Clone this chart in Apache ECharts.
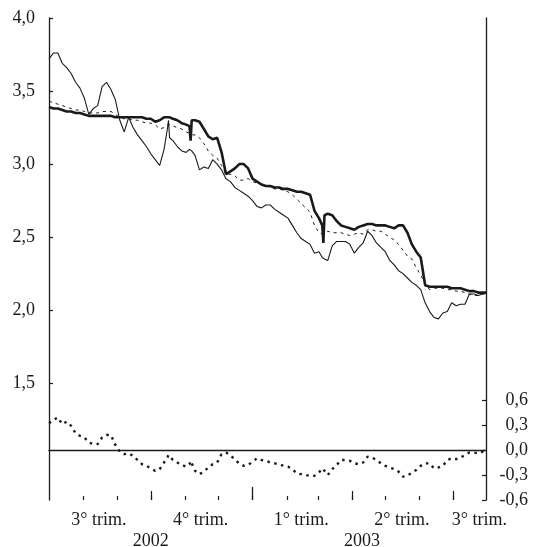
<!DOCTYPE html>
<html>
<head>
<meta charset="utf-8">
<script src="https://cdn.jsdelivr.net/npm/echarts@6/dist/echarts.min.js"></script>
<style>
  html, body { margin: 0; padding: 0; background: #fff; }
  #chart { width: 538px; height: 547px; }
</style>
</head>
<body>
<div id="chart"></div>
<script>
// Observation dates (1 Jul 2002 - 31 Jul 2003, roughly every fourth day, denser around sharp moves)
const dates = [
  '2002-07-01','2002-07-05','2002-07-09','2002-07-13','2002-07-17','2002-07-21','2002-07-25','2002-07-29',
  '2002-08-02','2002-08-06','2002-08-10','2002-08-14','2002-08-18','2002-08-22','2002-08-26','2002-08-30',
  '2002-09-03','2002-09-07','2002-09-11','2002-09-15','2002-09-19','2002-09-23','2002-09-27',
  '2002-10-01','2002-10-05','2002-10-09','2002-10-13','2002-10-16','2002-10-17','2002-10-18','2002-10-21','2002-10-25','2002-10-29',
  '2002-11-02','2002-11-05','2002-11-06','2002-11-07','2002-11-10','2002-11-14','2002-11-18','2002-11-22','2002-11-26','2002-11-30',
  '2002-12-04','2002-12-08','2002-12-12','2002-12-16','2002-12-20','2002-12-24','2002-12-28',
  '2003-01-01','2003-01-05','2003-01-09','2003-01-13','2003-01-17','2003-01-21','2003-01-25','2003-01-29',
  '2003-02-02','2003-02-06','2003-02-10','2003-02-14','2003-02-18','2003-02-22','2003-02-26',
  '2003-03-02','2003-03-05','2003-03-06','2003-03-07','2003-03-10','2003-03-14','2003-03-18','2003-03-22','2003-03-26','2003-03-30',
  '2003-04-03','2003-04-07','2003-04-11','2003-04-15','2003-04-19','2003-04-23','2003-04-27',
  '2003-05-01','2003-05-05','2003-05-09','2003-05-13','2003-05-17','2003-05-21','2003-05-25','2003-05-29',
  '2003-06-02','2003-06-06','2003-06-10','2003-06-14','2003-06-18','2003-06-22','2003-06-26','2003-06-30',
  '2003-07-04','2003-07-08','2003-07-12','2003-07-16','2003-07-20','2003-07-24','2003-07-28','2003-07-31'
];

// Upper curve (thick line), left axis
const upper = [
  3.39,3.38,3.38,3.37,3.36,3.36,3.35,3.35,
  3.34,3.33,3.33,3.33,3.33,3.33,3.33,3.32,
  3.32,3.32,3.32,3.32,3.32,3.32,3.31,
  3.31,3.29,3.30,3.32,3.32,3.32,3.32,3.31,3.30,3.28,
  3.27,3.26,3.16,3.30,3.30,3.29,3.24,3.19,3.17,3.18,
  3.08,2.93,2.95,2.97,3.00,3.00,2.97,
  2.90,2.88,2.86,2.85,2.85,2.84,2.84,2.83,
  2.83,2.82,2.81,2.81,2.80,2.79,2.68,
  2.63,2.58,2.46,2.65,2.66,2.65,2.61,2.58,2.57,2.56,
  2.55,2.57,2.58,2.59,2.59,2.58,2.58,
  2.58,2.57,2.56,2.58,2.58,2.53,2.45,2.40,
  2.36,2.17,2.16,2.16,2.16,2.16,2.16,2.15,
  2.15,2.15,2.14,2.13,2.13,2.12,2.12,2.12
];

// Lower curve (thin line), left axis
const lower = [
  3.72,3.76,3.76,3.69,3.66,3.62,3.56,3.52,
  3.45,3.34,3.38,3.40,3.53,3.56,3.51,3.44,
  3.30,3.22,3.32,3.25,3.20,3.16,3.12,
  3.07,3.03,2.99,3.10,3.24,3.30,3.18,3.16,3.12,3.09,
  3.08,3.10,3.10,3.09,3.06,2.96,2.98,2.97,3.03,3.00,
  2.96,2.90,2.88,2.84,2.82,2.80,2.78,
  2.75,2.71,2.70,2.72,2.72,2.69,2.67,2.65,
  2.63,2.58,2.53,2.49,2.47,2.45,2.39,
  2.40,2.36,2.35,2.35,2.34,2.44,2.47,2.47,2.47,2.45,
  2.39,2.43,2.46,2.54,2.51,2.46,2.43,
  2.40,2.34,2.31,2.27,2.25,2.22,2.19,2.17,
  2.14,2.05,1.99,1.95,1.94,1.98,1.99,2.05,
  2.03,2.04,2.04,2.11,2.11,2.10,2.11,2.12
];

// Middle curve (dashed line), left axis
const middle = [
  3.43,3.42,3.41,3.40,3.39,3.38,3.37,3.37,
  3.36,3.35,3.35,3.35,3.36,3.36,3.36,3.34,
  3.32,3.31,3.31,3.30,3.30,3.29,3.28,
  3.28,3.27,3.24,3.25,3.27,3.28,3.27,3.26,3.25,3.24,
  3.22,3.21,3.20,3.20,3.20,3.18,3.14,3.09,3.06,3.04,
  2.99,2.93,2.93,2.92,2.89,2.89,2.90,
  2.88,2.87,2.86,2.85,2.84,2.83,2.83,2.82,
  2.81,2.79,2.76,2.73,2.70,2.67,2.58,
  2.53,2.52,2.52,2.53,2.54,2.53,2.53,2.53,2.52,2.51,
  2.52,2.53,2.52,2.55,2.55,2.54,2.54,
  2.52,2.50,2.48,2.45,2.41,2.37,2.35,2.29,
  2.24,2.18,2.14,2.15,2.15,2.15,2.14,2.14,
  2.13,2.13,2.12,2.11,2.10,2.10,2.11,2.11
];

// Differential (dotted line), right axis
const spread = [
  0.32,0.36,0.39,0.31,0.34,0.29,0.20,0.17,
  0.15,0.09,0.07,0.07,0.15,0.18,0.18,0.06,
  -0.02,-0.05,-0.04,-0.07,-0.12,-0.17,-0.19,
  -0.22,-0.25,-0.23,-0.15,-0.09,-0.06,-0.08,-0.12,-0.15,-0.18,
  -0.20,-0.17,-0.13,-0.16,-0.25,-0.29,-0.26,-0.21,-0.17,-0.15,
  -0.05,-0.03,-0.06,-0.12,-0.16,-0.19,-0.18,
  -0.14,-0.10,-0.12,-0.13,-0.15,-0.16,-0.17,-0.19,
  -0.20,-0.23,-0.28,-0.29,-0.30,-0.31,-0.31,
  -0.27,-0.22,-0.21,-0.25,-0.30,-0.23,-0.18,-0.12,-0.12,-0.13,
  -0.16,-0.17,-0.15,-0.08,-0.09,-0.12,-0.16,
  -0.19,-0.21,-0.23,-0.26,-0.32,-0.31,-0.27,-0.24,
  -0.19,-0.16,-0.16,-0.22,-0.21,-0.19,-0.12,-0.10,
  -0.11,-0.09,-0.06,-0.03,-0.03,-0.04,-0.02,-0.03
];

// Axis ticks and labels
const startDate = '2002-07-01';
const endDate = '2003-07-31';
const monthTicks = ['2002-08-01','2002-09-01','2002-10-01','2002-11-01','2002-12-01','2003-01-01',
                    '2003-02-01','2003-03-01','2003-04-01','2003-05-01','2003-06-01','2003-07-01'];
const quarterTicks = ['2002-10-01','2003-04-01','2003-07-01'];
const yearTicks = ['2003-01-01'];
const quarterLabelDates = ['2002-08-15','2002-11-15','2003-02-14','2003-05-16','2003-07-25'];
const quarterLabels = ['3° trim.','4° trim.','1° trim.','2° trim.','3° trim.'];
const yearLabelDates = ['2002-10-01','2003-04-10'];
const yearLabels = ['2002','2003'];
const leftTicks = [1.5, 2.0, 2.5, 3.0, 3.5, 4.0];
const rightTicks = [-0.6, -0.3, 0.0, 0.3, 0.6];

// Dates are placed on a linear millisecond scale
const ts = s => Date.UTC(+s.slice(0, 4), +s.slice(5, 7) - 1, +s.slice(8, 10));
const pairs = vals => dates.map((d, i) => [ts(d), vals[i]]);
const comma = v => v.toFixed(1).replace('.', ',');

const INK = '#1a1a1a';
const FONT = { fontFamily: 'Liberation Serif', fontSize: 18, color: INK };

const quarterMap = {};
quarterLabelDates.forEach((d, i) => { quarterMap[ts(d)] = quarterLabels[i]; });
const yearMap = {};
yearLabelDates.forEach((d, i) => { yearMap[ts(d)] = yearLabels[i]; });

// Several bottom axes share one date range: baseline, month / quarter / year ticks, two label rows
function dateAxis(extra) {
  return Object.assign({
    type: 'value',
    min: ts(startDate),
    max: ts(endDate),
    position: 'bottom',
    splitLine: { show: false },
    axisLine: { show: false },
    axisTick: { show: false },
    axisLabel: { show: false }
  }, extra);
}
const tickStyle = w => ({ color: INK, width: w });

const chart = echarts.init(document.getElementById('chart'), null, { renderer: 'canvas' });
chart.setOption({
  animation: false,
  backgroundColor: '#fff',
  grid: { left: 49, right: 52, top: 18, bottom: 47, containLabel: false, outerBoundsMode: 'none' },
  xAxis: [
    dateAxis({
      axisLine: { show: true, lineStyle: { color: INK, width: 1.3 } }
    }),
    dateAxis({
      axisTick: { show: true, inside: true, length: 4, customValues: monthTicks.map(ts), lineStyle: tickStyle(1.2) }
    }),
    dateAxis({
      axisTick: { show: true, inside: true, length: 9, customValues: quarterTicks.map(ts), lineStyle: tickStyle(1.2) }
    }),
    dateAxis({
      axisTick: { show: true, inside: true, length: 13, customValues: yearTicks.map(ts), lineStyle: tickStyle(1.3) }
    }),
    dateAxis({
      axisLabel: Object.assign({ show: true, margin: 11, customValues: quarterLabelDates.map(ts),
                                 formatter: v => quarterMap[v] || '' }, FONT)
    }),
    dateAxis({
      axisLabel: Object.assign({ show: true, margin: 32, customValues: yearLabelDates.map(ts),
                                 formatter: v => yearMap[v] || '' }, FONT)
    })
  ],
  yAxis: [
    {
      type: 'value', position: 'left', min: 0.7, max: 4.0,
      splitLine: { show: false },
      axisLine: { show: true, lineStyle: { color: INK, width: 1.3 } },
      axisTick: { show: true, inside: true, length: 4, customValues: leftTicks, lineStyle: tickStyle(1.2) },
      axisLabel: Object.assign({ margin: 14, customValues: leftTicks, formatter: comma }, FONT)
    },
    {
      type: 'value', position: 'right', min: -0.6, max: 5.184,
      splitLine: { show: false },
      axisLine: { show: true, lineStyle: { color: INK, width: 1.3 } },
      axisTick: { show: true, inside: true, length: 4, customValues: rightTicks, lineStyle: tickStyle(1.2) },
      axisLabel: Object.assign({ margin: 42, align: 'right', customValues: rightTicks, formatter: comma }, FONT)
    }
  ],
  series: [
    {
      name: 'lower', type: 'line', xAxisIndex: 0, yAxisIndex: 0,
      data: pairs(lower), showSymbol: false, symbol: 'none',
      lineStyle: { color: INK, width: 1.1 }
    },
    {
      name: 'middle', type: 'line', xAxisIndex: 0, yAxisIndex: 0,
      data: pairs(middle), showSymbol: false, symbol: 'none',
      lineStyle: { color: INK, width: 1, type: [3, 4] }
    },
    {
      name: 'upper', type: 'line', xAxisIndex: 0, yAxisIndex: 0,
      data: pairs(upper), showSymbol: false, symbol: 'none',
      lineStyle: { color: INK, width: 2.6 }
    },
    {
      name: 'spread', type: 'line', xAxisIndex: 0, yAxisIndex: 1,
      data: pairs(spread), showSymbol: false, symbol: 'none',
      lineStyle: { color: INK, width: 2.4, type: [2.5, 4.5] },
      markLine: {
        silent: true, symbol: 'none', label: { show: false },
        lineStyle: { color: INK, width: 1.2, type: 'solid' },
        data: [{ yAxis: 0 }]
      }
    }
  ]
});
</script>
</body>
</html>
